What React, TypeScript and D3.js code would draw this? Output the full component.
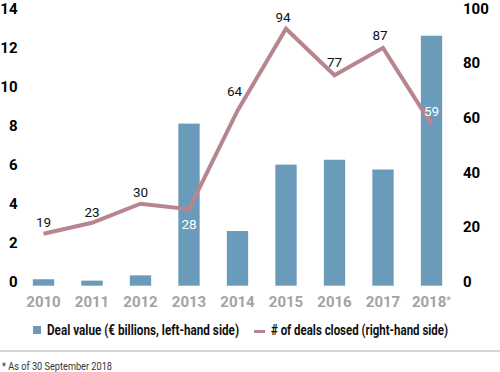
import React, { useEffect, useRef } from 'react';
import * as d3 from 'd3';

// Chart data
const years = ['2010', '2011', '2012', '2013', '2014', '2015', '2016', '2017', '2018'];
const dealValue = [0.33, 0.26, 0.53, 8.3, 2.8, 6.2, 6.45, 5.95, 12.8];
const dealsClosed = [19, 23, 30, 28, 64, 94, 77, 87, 59];
const leftTicks = [0, 2, 4, 6, 8, 10, 12, 14];
const rightTicks = [0, 20, 40, 60, 80, 100];

// label placement tweaks per point: [dx, dy, white]
const labelOffsets: [number, number, boolean][] = [
  [0, -11, false],
  [0, -11, false],
  [0, -11, false],
  [0, 15, true],
  [-3, -19, false],
  [-3, -11, false],
  [0, -13, false],
  [-3, -13, false],
  [0, -13, true],
];

const FONT = "Roboto, 'DejaVu Sans', sans-serif";
const BAR = '#6b9bbb';
const LINE = '#b8858f';

const App = () => {
  const ref = useRef<SVGSVGElement>(null);

  useEffect(() => {
    const svg = d3.select(ref.current);
    svg.selectAll('*').remove();

    const x = d3.scaleBand().domain(years).range([19.25, 455.75]).paddingInner(0.56).paddingOuter(0.28);
    const yL = d3.scaleLinear().domain([0, 14]).range([285.7, 12.3]);
    const yR = d3.scaleLinear().domain([0, 100]).range([285.7, 12.3]);
    const cx = (d: string) => (x(d) as number) + x.bandwidth() / 2;

    // Bars
    svg
      .append('g')
      .selectAll('rect')
      .data(years)
      .enter()
      .append('rect')
      .attr('x', (d) => x(d) as number)
      .attr('y', (d, i) => yL(dealValue[i]))
      .attr('width', x.bandwidth())
      .attr('height', (d, i) => yL(0) - yL(dealValue[i]))
      .attr('fill', BAR);

    // Line
    const line = d3
      .line<number>()
      .x((d, i) => cx(years[i]))
      .y((d) => yR(d));
    svg
      .append('path')
      .datum(dealsClosed)
      .attr('d', line)
      .attr('fill', 'none')
      .attr('stroke', LINE)
      .attr('stroke-width', 4)
      .attr('stroke-linejoin', 'miter');

    // Data labels
    svg
      .append('g')
      .selectAll('text')
      .data(dealsClosed)
      .enter()
      .append('text')
      .attr('x', (d, i) => cx(years[i]) + labelOffsets[i][0])
      .attr('y', (d, i) => yR(d) + labelOffsets[i][1])
      .attr('dy', '0.35em')
      .attr('text-anchor', 'middle')
      .style('font-family', FONT)
      .style('font-size', '13.5px')
      .attr('fill', (d, i) => (labelOffsets[i][2] ? '#ffffff' : '#111111'))
      .text((d) => d);

    // Left axis labels
    svg
      .append('g')
      .selectAll('text')
      .data(leftTicks)
      .enter()
      .append('text')
      .attr('x', 17.5)
      .attr('y', (d) => yL(d) - 4)
      .attr('dy', '0.36em')
      .attr('text-anchor', 'end')
      .style('font-family', FONT)
      .style('font-size', '15px')
      .style('font-weight', 'bold')
      .attr('fill', '#000')
      .text((d) => d);

    // Right axis labels
    svg
      .append('g')
      .selectAll('text')
      .data(rightTicks)
      .enter()
      .append('text')
      .attr('x', 463)
      .attr('y', (d) => yR(d) - 4)
      .attr('dy', '0.36em')
      .attr('text-anchor', 'start')
      .style('font-family', FONT)
      .style('font-size', '15px')
      .style('font-weight', 'bold')
      .attr('fill', '#000')
      .text((d) => d);

    // X axis labels
    const xl = svg
      .append('g')
      .selectAll('text')
      .data(years)
      .enter()
      .append('text')
      .attr('x', (d) => cx(d))
      .attr('y', 302)
      .attr('dy', '0.36em')
      .attr('text-anchor', 'middle')
      .style('font-family', FONT)
      .style('font-size', '15px')
      .style('font-weight', 'bold')
      .attr('fill', '#a3a3a3')
      .text((d) => d);
    xl.filter((d) => d === '2018')
      .append('tspan')
      .attr('dy', '-0.3em')
      .style('font-size', '11px')
      .style('font-weight', 'normal')
      .text('*');

    // Legend
    const legend = svg.append('g').attr('transform', 'translate(0, 330)');
    legend.append('rect').attr('x', 33).attr('y', -4).attr('width', 8).attr('height', 8).attr('fill', BAR);
    legend
      .append('text')
      .attr('x', 47)
      .attr('dy', '0.36em')
      .attr('textLength', 192)
      .attr('lengthAdjust', 'spacingAndGlyphs')
      .style('font-family', FONT)
      .style('font-size', '14.5px')
      .style('font-weight', 'bold')
      .attr('fill', '#111')
      .text('Deal value (€ billions, left-hand side)');
    legend.append('rect').attr('x', 254).attr('y', 0).attr('width', 11).attr('height', 3).attr('fill', LINE);
    legend
      .append('text')
      .attr('x', 271)
      .attr('dy', '0.36em')
      .attr('textLength', 177)
      .attr('lengthAdjust', 'spacingAndGlyphs')
      .style('font-family', FONT)
      .style('font-size', '14.5px')
      .style('font-weight', 'bold')
      .attr('fill', '#111')
      .text('# of deals closed (right-hand side)');

    // Separator and footnote
    svg.append('line').attr('x1', 0).attr('x2', 500).attr('y1', 351).attr('y2', 351).attr('stroke', '#c9c9c9').attr('stroke-width', 1.5);
    svg
      .append('text')
      .attr('x', 2)
      .attr('y', 366)
      .attr('dy', '0.36em')
      .attr('textLength', 110)
      .attr('lengthAdjust', 'spacingAndGlyphs')
      .style('font-family', FONT)
      .style('font-size', '11px')
      .attr('fill', '#333')
      .text('* As of 30 September 2018');
  }, []);

  return (
    <div className="chart">
      <svg ref={ref} width="500" height="372" style={{ position: 'absolute', left: 0, top: 0, background: '#fff' }}></svg>
    </div>
  );
};

export default App;
